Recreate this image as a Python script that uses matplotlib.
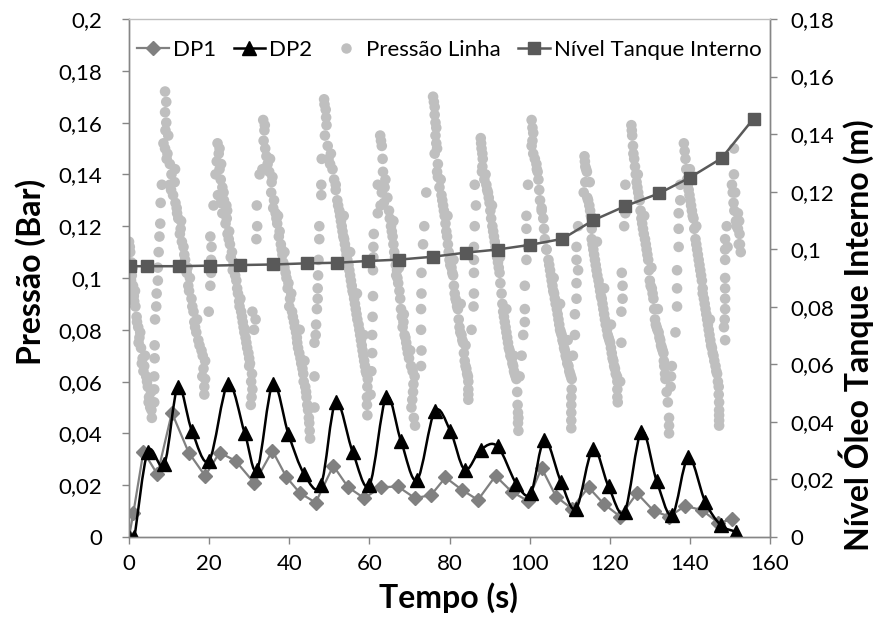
import matplotlib
matplotlib.use("Agg")
import matplotlib.pyplot as plt
from matplotlib.path import Path
from matplotlib.patches import PathPatch
from matplotlib.lines import Line2D
from matplotlib.ticker import FuncFormatter, MultipleLocator

plt.rcParams['font.family'] = ['Lato', 'DejaVu Sans']

# ---- DP1 (left axis, bar) ----
dp1_t = [0, 1.1, 3.6, 7.1, 10.7, 14.9, 19.0, 22.6, 26.6, 31.3, 35.8, 39.3, 42.7, 46.6,
         51.0, 54.7, 58.7, 62.9, 67.1, 71.4, 75.4, 79.0, 83.1, 87.1, 91.5, 95.5, 99.5,
         103.0, 106.6, 110.5, 114.7, 118.5, 122.6, 126.8, 131.0, 134.9, 138.8, 143.0,
         147.1, 150.6]
dp1_v = [0, 0.0094, 0.033, 0.0242, 0.048, 0.0326, 0.0236, 0.0326, 0.0294, 0.0208, 0.0333,
         0.0231, 0.0169, 0.0133, 0.0275, 0.0192, 0.015, 0.0192, 0.0195, 0.015, 0.0162,
         0.023, 0.0182, 0.0143, 0.0236, 0.0175, 0.014, 0.0266, 0.0156, 0.011, 0.0192,
         0.0128, 0.0079, 0.0169, 0.010, 0.0079, 0.012, 0.0104, 0.0055, 0.0068]

# ---- DP2 (left axis, bar) ----
dp2_t = [0, 1.3, 4.7, 8.8, 12.2, 15.7, 20.0, 24.7, 28.9, 32.0, 35.9, 39.8, 43.7, 47.9,
         51.6, 55.8, 60.0, 64.2, 67.9, 71.9, 76.3, 80.2, 83.8, 87.8, 92.0, 96.7, 100.3,
         103.7, 107.8, 111.6, 115.8, 119.7, 123.7, 127.9, 131.7, 135.6, 139.6, 143.8,
         147.7, 151.6]
dp2_v = [0, 0, 0.033, 0.028, 0.058, 0.041, 0.0295, 0.059, 0.040, 0.026, 0.059, 0.0397,
         0.0244, 0.020, 0.052, 0.033, 0.020, 0.054, 0.037, 0.022, 0.0485, 0.041, 0.026,
         0.0337, 0.035, 0.0205, 0.017, 0.0375, 0.0214, 0.011, 0.034, 0.0195, 0.0098,
         0.0407, 0.0217, 0.0085, 0.0307, 0.0137, 0.0046, 0.002]

# ---- Internal tank oil level (right axis, m) ----
lvl_t = [0.25, 4.4, 12.4, 20.3, 27.8, 36.0, 44.4, 51.9, 59.6, 67.5, 75.9, 84.0, 92.0,
         100.0, 108.2, 115.8, 123.9, 132.3, 140.0, 147.9, 155.9]
lvl_v = [0.0941, 0.0941, 0.0941, 0.0943, 0.0945, 0.0947, 0.0951, 0.0953, 0.0959, 0.0964,
         0.0974, 0.0988, 0.0999, 0.1015, 0.1036, 0.110, 0.115, 0.1194, 0.1249, 0.1316,
         0.1454]

# ---- Line pressure samples (t [s], p [bar]), grouped by pumping cycle ----
press_c0 = [(0.0, 0.114), (0.3, 0.110), (0.6, 0.106), (0.7, 0.101), (1.0, 0.097), (1.2, 0.093),
            (1.6, 0.089), (1.9, 0.085), (2.3, 0.081), (2.6, 0.077), (3.0, 0.073), (3.4, 0.069),
            (3.8, 0.066), (4.3, 0.062), (4.7, 0.058), (5.0, 0.054), (5.3, 0.050), (5.7, 0.046),
            (0.9, 0.104), (1.5, 0.095), (2.8, 0.079), (4.0, 0.070), (5.5, 0.056),
            (0.2, 0.112), (0.5, 0.099), (1.3, 0.091), (2.0, 0.083), (2.4, 0.075), (3.2, 0.067),
            (3.6, 0.064), (4.5, 0.060), (4.9, 0.052), (5.6, 0.049)]
press_c1 = [(6.3, 0.052), (6.3, 0.062), (6.4, 0.074), (6.5, 0.084), (6.8, 0.089), (6.9, 0.094),
            (7.2, 0.099), (7.2, 0.104), (7.4, 0.110), (7.6, 0.116), (7.8, 0.121), (8.2, 0.136),
            (9.0, 0.172), (9.3, 0.168), (9.0, 0.164), (9.3, 0.160), (8.6, 0.152), (9.0, 0.150),
            (9.4, 0.146), (10.2, 0.144), (11.5, 0.142), (10.2, 0.136), (11.0, 0.132),
            (11.9, 0.127), (12.3, 0.123), (12.7, 0.117), (13.6, 0.112), (14.0, 0.107),
            (14.4, 0.102), (14.8, 0.097), (15.6, 0.092), (16.1, 0.087), (16.5, 0.081),
            (17.3, 0.076), (18.1, 0.072), (19.0, 0.068), (18.6, 0.065), (19.0, 0.061),
            (18.8, 0.055), (9.8, 0.155), (11.4, 0.137), (13.0, 0.122), (15.2, 0.100),
            (17.0, 0.084), (18.3, 0.062),
            (9.1, 0.157), (9.6, 0.148), (10.6, 0.140), (10.5, 0.134), (11.6, 0.129),
            (12.0, 0.125), (12.9, 0.119), (13.2, 0.114), (13.8, 0.109), (14.6, 0.104),
            (15.0, 0.095), (15.8, 0.089), (16.3, 0.083), (16.8, 0.079), (17.6, 0.074),
            (18.4, 0.070), (18.8, 0.058), (6.4, 0.069), (6.3, 0.057), (7.9, 0.129)]
press_c2 = [(19.9, 0.087), (20.3, 0.097), (20.5, 0.102), (20.5, 0.107), (20.6, 0.112),
            (20.3, 0.116), (21.1, 0.128), (22.1, 0.152), (22.4, 0.148), (21.9, 0.145),
            (22.6, 0.142), (21.6, 0.140), (22.9, 0.138), (23.3, 0.135), (22.2, 0.132),
            (23.7, 0.130), (24.5, 0.126), (22.9, 0.129), (23.3, 0.125), (24.1, 0.121),
            (24.6, 0.117), (25.2, 0.113), (25.7, 0.110), (26.1, 0.106), (26.5, 0.101),
            (27.0, 0.096), (27.5, 0.091), (28.0, 0.087), (28.4, 0.083), (28.8, 0.079),
            (29.3, 0.075), (29.8, 0.071), (30.2, 0.067), (30.7, 0.063), (30.8, 0.057),
            (30.4, 0.051), (25.0, 0.118), (26.6, 0.104), (27.8, 0.092), (29.0, 0.080),
            (30.0, 0.066),
            (22.6, 0.150), (23.0, 0.144), (23.6, 0.133), (24.3, 0.128), (24.4, 0.123),
            (24.9, 0.115), (25.4, 0.108), (25.9, 0.103), (26.8, 0.099), (27.2, 0.094),
            (27.6, 0.089), (28.2, 0.085), (28.6, 0.081), (29.1, 0.077), (29.5, 0.073),
            (30.0, 0.069), (30.5, 0.060), (30.6, 0.054)]
press_c3 = [(30.8, 0.087), (31.2, 0.080), (31.6, 0.084), (31.8, 0.115), (32.0, 0.120),
            (31.9, 0.128), (32.6, 0.140), (33.5, 0.161), (33.8, 0.157), (33.6, 0.153),
            (34.0, 0.150), (34.3, 0.147), (35.2, 0.146), (33.3, 0.142), (35.0, 0.141),
            (35.6, 0.137), (35.5, 0.133), (36.2, 0.130), (36.6, 0.125), (37.0, 0.121),
            (37.4, 0.116), (37.9, 0.113), (38.3, 0.109), (38.8, 0.104), (39.3, 0.100),
            (39.6, 0.096), (40.2, 0.092), (40.7, 0.087), (41.2, 0.083), (41.7, 0.079),
            (42.0, 0.075), (42.5, 0.071), (43.0, 0.067), (43.5, 0.063), (44.0, 0.058),
            (44.3, 0.054), (44.7, 0.049), (45.0, 0.044), (45.2, 0.038), (37.2, 0.124),
            (38.8, 0.110), (40.5, 0.094), (42.6, 0.080), (43.8, 0.068),
            (33.9, 0.159), (34.6, 0.144), (35.8, 0.139), (36.0, 0.127), (36.8, 0.123),
            (37.6, 0.118), (38.1, 0.111), (38.5, 0.106), (39.1, 0.102), (39.8, 0.098),
            (40.0, 0.089), (40.9, 0.085), (41.4, 0.081), (41.9, 0.077), (42.2, 0.073),
            (42.8, 0.069), (43.3, 0.065), (43.6, 0.060), (44.2, 0.056), (44.5, 0.051),
            (44.9, 0.046), (45.1, 0.041)]
press_c4 = [(46.3, 0.050), (46.3, 0.062), (46.3, 0.075), (46.6, 0.078), (46.7, 0.082),
            (46.9, 0.088), (47.1, 0.092), (47.1, 0.096), (47.2, 0.101), (47.3, 0.107),
            (47.5, 0.115), (47.5, 0.120), (48.0, 0.132), (48.0, 0.136), (48.1, 0.146),
            (48.7, 0.169), (49.1, 0.165), (49.3, 0.159), (48.9, 0.155), (50.4, 0.148),
            (49.6, 0.151), (51.2, 0.138), (50.8, 0.142), (52.0, 0.130), (52.5, 0.126),
            (52.9, 0.122), (53.3, 0.118), (53.7, 0.115), (54.1, 0.111), (54.5, 0.107),
            (55.0, 0.103), (55.4, 0.099), (55.8, 0.095), (56.2, 0.092), (56.6, 0.088),
            (57.0, 0.084), (57.5, 0.080), (57.9, 0.076), (58.3, 0.072), (58.7, 0.068),
            (59.1, 0.064), (59.6, 0.061), (59.4, 0.054), (59.5, 0.047), (53.6, 0.124),
            (55.2, 0.110), (56.9, 0.094), (58.6, 0.078), (51.6, 0.136),
            (48.8, 0.167), (49.2, 0.162), (49.8, 0.146), (50.2, 0.144), (51.6, 0.134),
            (52.2, 0.128), (52.7, 0.124), (53.1, 0.120), (53.5, 0.116), (53.9, 0.113),
            (54.3, 0.109), (54.8, 0.105), (55.2, 0.101), (55.6, 0.097), (56.0, 0.094),
            (56.4, 0.090), (56.8, 0.086), (57.3, 0.082), (57.7, 0.078), (58.1, 0.074),
            (58.5, 0.070), (58.9, 0.066), (59.3, 0.063), (59.5, 0.058), (59.4, 0.051)]
press_c5 = [(60.3, 0.055), (60.5, 0.064), (60.7, 0.071), (60.7, 0.078), (60.8, 0.085),
            (60.9, 0.093), (60.9, 0.103), (61.0, 0.108), (61.0, 0.112), (61.1, 0.117),
            (62.7, 0.155), (63.1, 0.151), (63.3, 0.146), (62.1, 0.136), (63.1, 0.133),
            (62.8, 0.128), (63.6, 0.129), (62.1, 0.125), (64.0, 0.138), (65.4, 0.120),
            (65.8, 0.116), (66.2, 0.110), (66.6, 0.105), (66.7, 0.101), (67.2, 0.098),
            (67.5, 0.095), (67.9, 0.088), (68.3, 0.081), (68.8, 0.078), (69.2, 0.075),
            (69.6, 0.071), (70.4, 0.066), (71.3, 0.062), (70.9, 0.056), (70.5, 0.050),
            (71.4, 0.043), (66.0, 0.122), (67.4, 0.104), (68.6, 0.086), (70.2, 0.072),
            (62.9, 0.153), (63.4, 0.141), (63.8, 0.135), (64.5, 0.131), (64.9, 0.126),
            (65.1, 0.123), (65.6, 0.118), (66.0, 0.113), (66.4, 0.108), (66.9, 0.103),
            (67.0, 0.100), (67.7, 0.092), (68.1, 0.085), (68.5, 0.083), (69.0, 0.077),
            (69.4, 0.073), (69.9, 0.069), (70.8, 0.064), (71.0, 0.059), (70.7, 0.053),
            (71.1, 0.046)]
press_c6 = [(72.9, 0.066), (73.0, 0.072), (72.9, 0.080), (72.9, 0.088), (73.0, 0.094),
            (73.0, 0.102), (73.4, 0.113), (73.7, 0.120), (74.2, 0.133), (75.9, 0.170),
            (76.3, 0.166), (76.3, 0.163), (76.7, 0.158), (76.7, 0.152), (76.3, 0.148),
            (77.1, 0.144), (77.1, 0.139), (78.0, 0.132), (78.4, 0.128), (78.8, 0.124),
            (79.2, 0.118), (79.6, 0.113), (80.0, 0.107), (80.5, 0.104), (80.9, 0.101),
            (81.3, 0.094), (81.7, 0.091), (82.1, 0.088), (82.5, 0.081), (83.0, 0.078),
            (83.4, 0.075), (83.8, 0.068), (84.2, 0.065), (84.6, 0.062), (84.7, 0.057),
            (84.7, 0.053), (77.8, 0.138), (79.5, 0.124), (81.0, 0.107), (82.8, 0.090),
            (84.0, 0.074),
            (76.1, 0.168), (76.5, 0.160), (76.5, 0.155), (76.9, 0.150), (76.9, 0.141),
            (77.5, 0.135), (78.2, 0.130), (78.6, 0.126), (79.0, 0.121), (79.4, 0.116),
            (79.8, 0.110), (80.2, 0.105), (80.7, 0.102), (81.1, 0.097), (81.5, 0.092),
            (81.9, 0.089), (82.3, 0.084), (82.7, 0.079), (83.2, 0.076), (83.6, 0.071),
            (84.0, 0.066), (84.4, 0.063), (84.7, 0.060), (84.7, 0.055)]
press_c7 = [(85.5, 0.080), (86.0, 0.089), (86.1, 0.094), (86.1, 0.102), (86.1, 0.107),
            (86.1, 0.112), (86.3, 0.120), (86.6, 0.128), (86.3, 0.136), (87.8, 0.154),
            (88.0, 0.150), (88.3, 0.146), (88.1, 0.141), (89.2, 0.136), (89.6, 0.133),
            (90.0, 0.129), (90.4, 0.123), (90.9, 0.118), (91.3, 0.114), (91.7, 0.111),
            (92.1, 0.106), (92.5, 0.102), (93.0, 0.094), (93.4, 0.087), (93.8, 0.083),
            (94.2, 0.079), (94.6, 0.075), (95.0, 0.072), (95.5, 0.069), (95.9, 0.066),
            (96.3, 0.063), (96.7, 0.061), (97.0, 0.051), (97.2, 0.046), (97.2, 0.041),
            (89.0, 0.140), (90.6, 0.128), (92.6, 0.108), (94.2, 0.088), (96.0, 0.070),
            (87.9, 0.152), (88.2, 0.148), (88.2, 0.143), (88.7, 0.138), (89.4, 0.134),
            (89.8, 0.131), (90.2, 0.126), (90.7, 0.120), (91.1, 0.116), (91.5, 0.112),
            (91.9, 0.108), (92.3, 0.104), (92.7, 0.098), (93.2, 0.090), (93.6, 0.085),
            (94.0, 0.081), (94.4, 0.077), (94.8, 0.073), (95.2, 0.070), (95.7, 0.067),
            (96.1, 0.064), (96.5, 0.062), (96.9, 0.056), (97.1, 0.048), (97.1, 0.044)]
press_c8 = [(97.5, 0.062), (98.0, 0.070), (98.4, 0.078), (98.8, 0.083), (98.8, 0.088),
            (98.8, 0.097), (99.2, 0.107), (99.6, 0.112), (99.2, 0.119), (99.2, 0.124),
            (99.6, 0.136), (100.5, 0.161), (100.9, 0.156), (100.5, 0.151), (101.3, 0.146),
            (102.2, 0.138), (102.6, 0.130), (103.4, 0.123), (103.8, 0.115), (104.7, 0.107),
            (105.1, 0.103), (105.5, 0.099), (105.9, 0.095), (106.3, 0.092), (106.8, 0.088),
            (107.2, 0.084), (107.6, 0.080), (108.0, 0.078), (108.4, 0.075), (108.8, 0.072),
            (109.2, 0.069), (109.7, 0.066), (110.1, 0.063), (110.5, 0.061), (110.4, 0.054),
            (110.4, 0.048), (110.4, 0.042), (101.8, 0.142), (103.0, 0.127), (104.2, 0.111),
            (106.0, 0.100), (107.6, 0.090), (109.5, 0.076),
            (100.7, 0.158), (100.7, 0.153), (100.9, 0.148), (101.7, 0.144), (102.0, 0.141),
            (102.4, 0.134), (103.0, 0.126), (103.6, 0.119), (104.2, 0.111), (104.9, 0.105),
            (105.3, 0.101), (105.7, 0.097), (106.1, 0.094), (106.5, 0.090), (107.0, 0.086),
            (107.4, 0.082), (107.8, 0.079), (108.2, 0.076), (108.6, 0.073), (109.0, 0.070),
            (109.4, 0.067), (109.9, 0.064), (110.3, 0.062), (110.5, 0.057), (110.4, 0.051),
            (110.4, 0.045)]
press_c9 = [(110.8, 0.070), (111.3, 0.078), (111.3, 0.086), (111.7, 0.092), (111.7, 0.098),
            (112.1, 0.103), (111.7, 0.107), (111.7, 0.112), (112.1, 0.120), (113.7, 0.147),
            (113.9, 0.143), (114.3, 0.141), (113.5, 0.133), (114.6, 0.130), (115.1, 0.126),
            (115.5, 0.123), (115.5, 0.115), (115.9, 0.111), (116.3, 0.107), (116.7, 0.103),
            (117.2, 0.099), (117.6, 0.095), (118.0, 0.092), (118.4, 0.088), (118.8, 0.084),
            (119.3, 0.080), (119.7, 0.077), (120.1, 0.075), (120.5, 0.071), (120.9, 0.068),
            (121.3, 0.065), (121.8, 0.062), (121.9, 0.057), (122.0, 0.052), (115.0, 0.137),
            (116.8, 0.114), (118.6, 0.096), (120.3, 0.082),
            (113.8, 0.145), (114.1, 0.142), (113.9, 0.137), (114.4, 0.131), (114.9, 0.128),
            (115.3, 0.124), (115.5, 0.119), (115.7, 0.113), (116.1, 0.109), (116.5, 0.105),
            (116.9, 0.101), (117.4, 0.097), (117.8, 0.093), (118.2, 0.090), (118.6, 0.086),
            (119.0, 0.082), (119.5, 0.078), (119.9, 0.076), (120.3, 0.073), (120.7, 0.069),
            (121.1, 0.066), (121.5, 0.063), (121.9, 0.060), (121.9, 0.054)]
press_c10 = [(122.6, 0.060), (122.9, 0.075), (122.9, 0.087), (123.2, 0.092), (123.2, 0.097),
             (123.0, 0.102), (123.6, 0.120), (123.9, 0.125), (123.9, 0.136), (125.4, 0.159),
             (125.6, 0.155), (125.9, 0.148), (126.3, 0.143), (126.7, 0.137), (127.1, 0.133),
             (127.5, 0.130), (127.9, 0.123), (128.3, 0.119), (128.8, 0.115), (129.2, 0.111),
             (129.6, 0.107), (130.0, 0.099), (130.5, 0.096), (130.9, 0.092), (131.3, 0.084),
             (131.7, 0.081), (132.2, 0.079), (132.6, 0.076), (133.0, 0.073), (133.4, 0.071),
             (133.6, 0.066), (133.9, 0.061), (135.5, 0.066), (134.5, 0.052), (134.8, 0.046),
             (134.8, 0.040), (127.0, 0.140), (128.6, 0.124), (130.4, 0.104), (132.0, 0.088),
             (135.2, 0.058),
             (125.5, 0.157), (125.8, 0.151), (126.1, 0.146), (126.5, 0.140), (126.9, 0.135),
             (127.3, 0.131), (127.7, 0.126), (128.1, 0.121), (128.5, 0.117), (129.0, 0.113),
             (129.4, 0.109), (129.8, 0.103), (130.2, 0.097), (130.7, 0.094), (131.1, 0.088),
             (131.5, 0.082), (131.9, 0.080), (132.4, 0.077), (132.8, 0.074), (133.2, 0.072),
             (133.5, 0.068), (133.8, 0.063), (134.2, 0.056), (134.8, 0.043), (135.3, 0.062)]
press_c11 = [(136.4, 0.079), (136.8, 0.089), (136.8, 0.096), (136.8, 0.103), (137.2, 0.112),
             (137.2, 0.119), (137.2, 0.125), (137.6, 0.130), (137.6, 0.136), (138.5, 0.152),
             (138.9, 0.146), (139.3, 0.138), (139.7, 0.134), (140.1, 0.130), (140.5, 0.126),
             (140.9, 0.123), (141.4, 0.115), (141.8, 0.111), (142.2, 0.107), (142.6, 0.103),
             (143.0, 0.099), (143.5, 0.092), (143.9, 0.088), (144.3, 0.084), (144.7, 0.080),
             (145.1, 0.076), (145.5, 0.073), (145.9, 0.070), (146.4, 0.066), (146.8, 0.063),
             (147.2, 0.058), (147.3, 0.052), (147.3, 0.047), (147.3, 0.043), (140.0, 0.142),
             (141.6, 0.120), (143.2, 0.096), (145.0, 0.084),
             (138.7, 0.149), (139.1, 0.142), (139.5, 0.136), (139.9, 0.132), (140.3, 0.128),
             (140.7, 0.124), (141.1, 0.119), (141.6, 0.113), (142.0, 0.109), (142.4, 0.105),
             (142.8, 0.101), (143.2, 0.094), (143.7, 0.090), (144.1, 0.086), (144.5, 0.082),
             (144.9, 0.078), (145.3, 0.074), (145.7, 0.071), (146.1, 0.068), (146.6, 0.064),
             (147.0, 0.060), (147.2, 0.055), (147.3, 0.049), (147.3, 0.045)]
press_c12 = [(148.5, 0.081), (148.8, 0.076), (148.8, 0.088), (148.8, 0.096), (148.8, 0.107),
             (148.8, 0.115), (149.2, 0.120), (149.4, 0.112), (150.5, 0.136), (151.0, 0.150),
             (151.3, 0.133), (150.9, 0.129), (152.0, 0.125), (152.4, 0.117), (152.7, 0.110),
             (151.5, 0.122), (152.2, 0.113),
             (148.7, 0.084), (148.8, 0.092), (148.8, 0.100), (148.8, 0.111), (150.7, 0.133),
             (151.1, 0.126), (151.7, 0.120), (152.0, 0.119), (152.5, 0.113), (151.0, 0.140),
             (152.3, 0.122)]

pressure_cycles = [press_c0, press_c1, press_c2, press_c3, press_c4, press_c5, press_c6,
                   press_c7, press_c8, press_c9, press_c10, press_c11, press_c12]
press_t = [pt[0] for cyc in pressure_cycles for pt in cyc]
press_p = [pt[1] for cyc in pressure_cycles for pt in cyc]

AXIS_GREY = '#868686'
TICK_FS = 16
LABEL_FS = 23


def smooth_path(xs, ys):
    """Catmull-Rom style cubic Bezier through the points (spreadsheet 'smoothed line')."""
    n = len(xs)
    verts = [(xs[0], ys[0])]
    codes = [Path.MOVETO]
    for i in range(n - 1):
        x0, y0 = (xs[i - 1], ys[i - 1]) if i > 0 else (xs[i], ys[i])
        x1, y1 = xs[i], ys[i]
        x2, y2 = xs[i + 1], ys[i + 1]
        x3, y3 = (xs[i + 2], ys[i + 2]) if i + 2 < n else (x2, y2)
        c1 = (x1 + (x2 - x0) / 6.0, y1 + (y2 - y0) / 6.0)
        c2 = (x2 - (x3 - x1) / 6.0, y2 - (y3 - y1) / 6.0)
        verts += [c1, c2, (x2, y2)]
        codes += [Path.CURVE4] * 3
    return Path(verts, codes)


W, H = 892, 630
fig = plt.figure(figsize=(W / 100, H / 100), dpi=100)
ax = fig.add_axes([129 / W, 1 - 537 / H, (770 - 129) / W, (537 - 19) / H])
ax2 = ax.twinx()

# Line pressure scatter
ax.scatter(press_t, press_p, s=58, color='#bfbfbf', edgecolors='none', zorder=2)

# DP1: straight segments with diamond markers
ax.plot(dp1_t, dp1_v, color='#808080', lw=1.6, marker='D', ms=7, mfc='#808080',
        mec='#808080', zorder=3)

# DP2: smoothed line with triangle markers
ax.add_patch(PathPatch(smooth_path(dp2_t, dp2_v), fill=False, edgecolor='black', lw=1.8,
                       zorder=4))
ax.plot(dp2_t, dp2_v, ls='none', marker='^', ms=9.5, color='black', zorder=5)

# Internal tank level on the secondary axis
ax2.plot(lvl_t, lvl_v, color='#595959', lw=1.8, marker='s', ms=9, mfc='#595959',
         mec='#595959', zorder=3)

ax.set_xlim(0, 160)
ax.set_ylim(0, 0.2)
ax2.set_ylim(0, 0.18)


def comma_fmt(v, pos):
    s = f"{v:.2f}".rstrip('0').rstrip('.')
    return s.replace('.', ',')


ax.xaxis.set_major_locator(MultipleLocator(20))
ax.yaxis.set_major_locator(MultipleLocator(0.02))
ax2.yaxis.set_major_locator(MultipleLocator(0.02))
ax.yaxis.set_major_formatter(FuncFormatter(comma_fmt))
ax2.yaxis.set_major_formatter(FuncFormatter(comma_fmt))

for a in (ax, ax2):
    for side in ('left', 'right', 'bottom', 'top'):
        a.spines[side].set_color(AXIS_GREY)
        a.spines[side].set_linewidth(1.0)
    a.tick_params(direction='out', length=5, width=1, color=AXIS_GREY,
                  labelsize=TICK_FS, labelcolor='black')
ax2.spines['top'].set_color('#bfbfbf')
ax.spines['top'].set_visible(False)
ax.tick_params(axis='y', pad=14)
ax.tick_params(axis='x', pad=7)
ax2.tick_params(axis='y', pad=10)

# Axis titles placed in figure pixels
fig.text(448 / W, 1 - 598 / H, 'Tempo (s)', fontsize=LABEL_FS, fontweight='bold',
         ha='center', va='center')
fig.text(31 / W, 1 - 272 / H, 'Pressão (Bar)', fontsize=LABEL_FS, fontweight='bold',
         ha='center', va='center', rotation=90)
fig.text(856 / W, 1 - 335 / H, 'Nível Óleo Tanque Interno (m)', fontsize=LABEL_FS,
         fontweight='bold', ha='center', va='center', rotation=90)

handles = [
    Line2D([], [], color='#808080', lw=1.6, marker='D', ms=7),
    Line2D([], [], color='black', lw=1.8, marker='^', ms=9.5),
    Line2D([], [], ls='none', color='#bfbfbf', marker='o', ms=6.5),
    Line2D([], [], color='#595959', lw=1.8, marker='s', ms=9),
]
labels = ['DP1', 'DP2', 'Pressão Linha', 'Nível Tanque Interno']
leg = ax2.legend(handles, labels, loc='upper center', bbox_to_anchor=(0.5, 1.0), ncol=4,
                 fontsize=TICK_FS, frameon=False, handlelength=1.4, handletextpad=0.2,
                 columnspacing=0.8, borderpad=0.45)

fig.savefig('out.png', dpi=100)
